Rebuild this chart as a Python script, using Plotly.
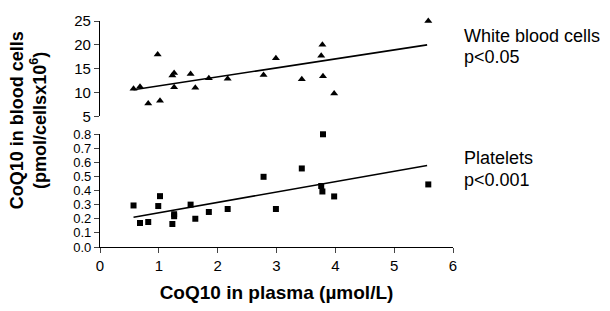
import plotly.graph_objects as go

# Data
plasma = [0.57, 0.68, 0.82, 0.98, 1.02, 1.23, 1.26, 1.26, 1.54, 1.62,
          1.85, 2.17, 2.78, 2.99, 3.43, 3.76, 3.78, 3.79, 3.98, 5.58]
wbc = [10.8, 11.2, 7.7, 18.0, 8.3, 13.6, 14.1, 11.1, 13.9, 11.0,
       13.0, 12.9, 13.7, 17.2, 12.8, 17.7, 20.0, 13.4, 9.8, 25.0]

plasma_plt = [0.57, 0.68, 0.82, 0.99, 1.02, 1.23, 1.26, 1.26, 1.54, 1.62,
              1.85, 2.17, 2.78, 2.99, 3.43, 3.76, 3.78, 3.79, 3.98, 5.58]
platelets = [0.294, 0.170, 0.177, 0.290, 0.360, 0.163, 0.232, 0.218, 0.300, 0.200,
             0.248, 0.269, 0.497, 0.269, 0.556, 0.432, 0.393, 0.798, 0.358, 0.443]

fit_x = [0.57, 5.56]
wbc_fit = [10.6, 20.0]
plt_fit = [0.211, 0.577]

top_ticks = [5, 10, 15, 20, 25]
bottom_ticks = [0.0, 0.1, 0.2, 0.3, 0.4, 0.5, 0.6, 0.7, 0.8]
x_ticks = [0, 1, 2, 3, 4, 5, 6]

FONT = "Liberation Sans, Arial, sans-serif"

fig = go.Figure()
fig.add_trace(go.Scatter(x=plasma, y=wbc, mode="markers", xaxis="x2", yaxis="y2",
                         marker=dict(symbol="triangle-up", size=7, color="black"),
                         cliponaxis=False, showlegend=False))
fig.add_trace(go.Scatter(x=fit_x, y=wbc_fit, mode="lines", xaxis="x2", yaxis="y2",
                         line=dict(color="black", width=1.6), showlegend=False))
fig.add_trace(go.Scatter(x=plasma_plt, y=platelets, mode="markers", xaxis="x", yaxis="y",
                         marker=dict(symbol="square", size=6, color="black"),
                         cliponaxis=False, showlegend=False))
fig.add_trace(go.Scatter(x=fit_x, y=plt_fit, mode="lines", xaxis="x", yaxis="y",
                         line=dict(color="black", width=1.6), showlegend=False))

H = 232.0
def py(pix):
    return (248 - pix) / H

fig.update_layout(
    width=610, height=311,
    margin=dict(l=100, r=157, t=16, b=63),
    paper_bgcolor="white", plot_bgcolor="white",
    font=dict(family=FONT, color="black", size=15),
    xaxis=dict(range=[0, 6], tickvals=x_ticks, ticks="outside", ticklen=5,
               showline=True, linecolor="black", linewidth=1.3, showgrid=False,
               zeroline=False, tickfont=dict(size=15),
               title=dict(text="<b>CoQ10 in plasma (µmol/L)</b>", font=dict(size=19),
                          standoff=12),
               anchor="y", domain=[0, 1]),
    xaxis2=dict(range=[0, 6], visible=False, matches="x", anchor="y2", domain=[0, 1]),
    yaxis=dict(range=[0, 0.8], tickvals=bottom_ticks, tickformat=".1f",
               ticks="outside", ticklen=5, showline=True, linecolor="black",
               linewidth=1.3, showgrid=False, zeroline=False, tickfont=dict(size=13),
               domain=[0, py(132)], anchor="x"),
    yaxis2=dict(range=[5, 25], tickvals=top_ticks, ticks="outside", ticklen=5,
                showline=True, linecolor="black", linewidth=1.3, showgrid=False,
                zeroline=False, tickfont=dict(size=15),
                domain=[py(114), 1.0], anchor="x2"),
)

ann = [
    ("White blood cells", 31),
    ("p&lt;0.05", 53),
    ("Platelets", 157),
    ("p&lt;0.001", 179),
]
for txt, ypix in ann:
    fig.add_annotation(text=txt, xref="paper", yref="paper", x=(462 - 100) / 353.0,
                       y=py(ypix), xanchor="left", yanchor="middle", showarrow=False,
                       font=dict(size=18, family=FONT, color="black"))

fig.add_annotation(text="<b>CoQ10 in blood cells<br>(pmol/cellsx10<sup>6</sup>)</b>",
                   xref="paper", yref="paper", x=(28 - 100) / 353.0, y=py(118),
                   xanchor="center", yanchor="middle", textangle=-90, showarrow=False,
                   font=dict(size=18, family=FONT, color="black"))

fig.write_html("out.html", config={"displayModeBar": False},
               post_script="document.body.style.margin='0';")
